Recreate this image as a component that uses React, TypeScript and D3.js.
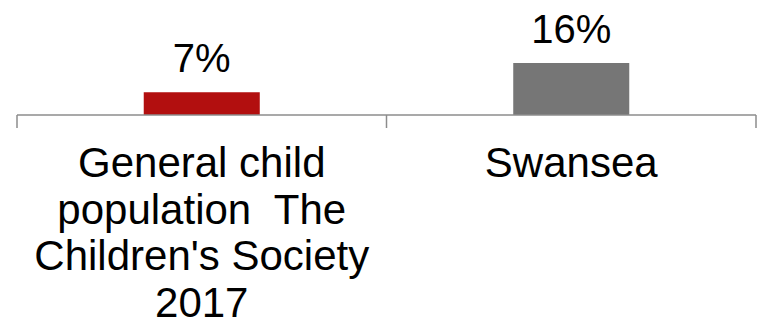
import React from "react";
import * as d3 from "d3";

const categories = ["General child population  The Children's Society 2017", "Swansea"];
const categoryLines = [["General child", "population  The", "Children's Society", "2017"], ["Swansea"]];
const values = [7, 16];
const valueLabels = ["7%", "16%"];
const barColors = ["#B20F0F", "#767676"];

const W = 759;
const H = 328;
const axisY = 115;

export default function App() {
  const x = d3.scaleBand<string>().domain(categories).range([17, 756]).padding(0);
  const y = d3.scaleLinear().domain([0, 32]).range([axisY, axisY - 104]);
  const barW = x.bandwidth() * 0.314;
  const ticks = [17, ...categories.map((c) => (x(c) as number) + x.bandwidth())];
  const font = "Arial, 'Liberation Sans', sans-serif";
  return (
    <svg width={W} height={H} style={{ position: "absolute", left: 0, top: 0, display: "block" }}>
      <rect width={W} height={H} fill="#fff" />
      {categories.map((c, i) => {
        const cx = (x(c) as number) + x.bandwidth() / 2;
        return (
          <g key={c}>
            <rect x={cx - barW / 2} y={y(values[i])} width={barW} height={axisY - y(values[i])} fill={barColors[i]} />
            <text x={cx} y={y(values[i]) - 20.5} textAnchor="middle" fontFamily={font} fontSize={40} fill="#000">
              {valueLabels[i]}
            </text>
            {categoryLines[i].map((ln, j) => (
              <text key={j} x={cx} y={177 + j * 46.5} textAnchor="middle" fontFamily={font} fontSize={42} fill="#000" style={{ whiteSpace: "pre" }}>
                {ln}
              </text>
            ))}
          </g>
        );
      })}
      <line x1={17} x2={756} y1={axisY} y2={axisY} stroke="#8c8c8c" strokeWidth={1.5} />
      {ticks.map((t, i) => (
        <line key={i} x1={t} x2={t} y1={axisY} y2={128} stroke="#8c8c8c" strokeWidth={1.5} />
      ))}
    </svg>
  );
}
